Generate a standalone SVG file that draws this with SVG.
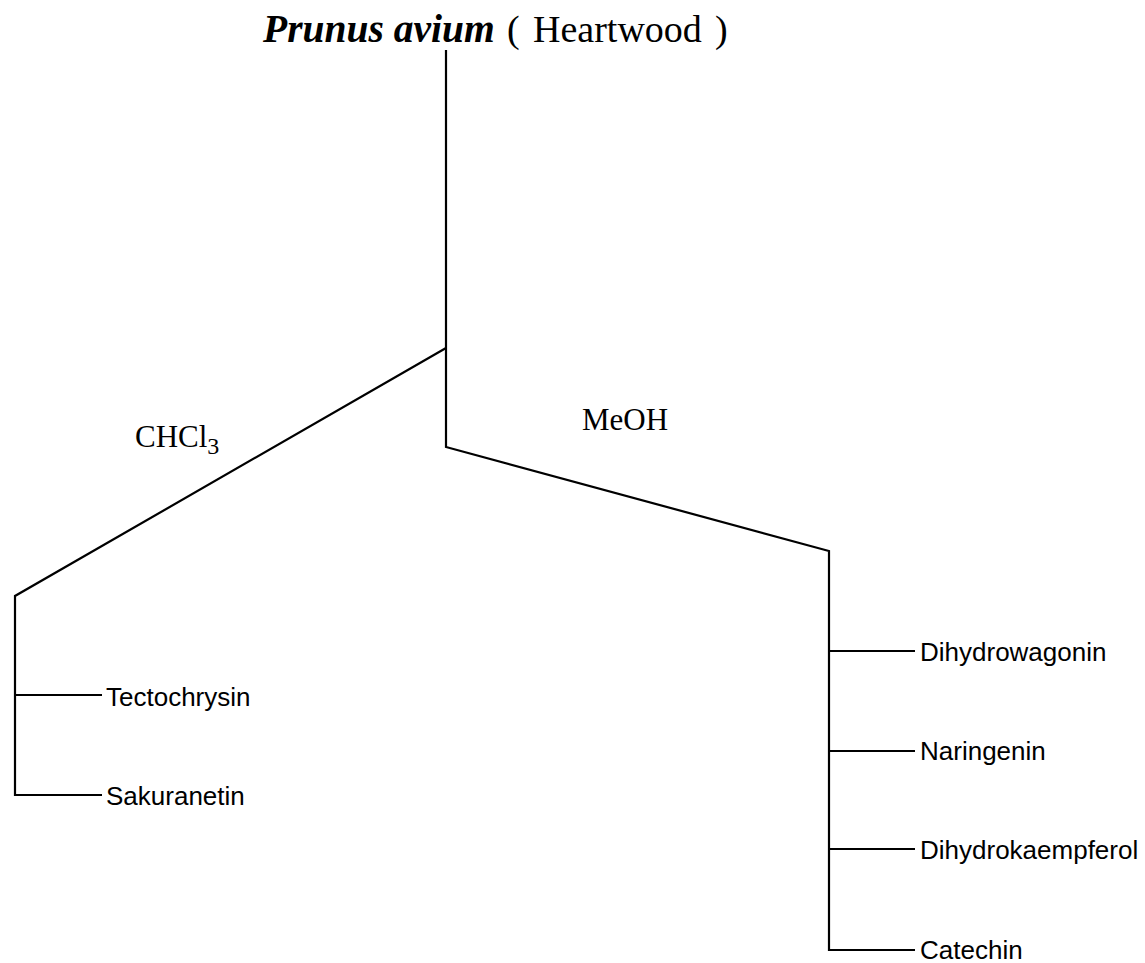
<svg xmlns="http://www.w3.org/2000/svg" width="1145" height="963" viewBox="0 0 1145 963">
<style>
.ln{fill:none;stroke:#000;stroke-width:2.2;stroke-linejoin:miter}
.serif{font-family:"Liberation Serif","Times New Roman",serif;fill:#000}
.sans{font-family:"Liberation Sans",Arial,sans-serif;font-size:26px;fill:#000}
</style>
<rect width="1145" height="963" fill="#fff"/>
<g id="connectors">
<polyline class="ln" points="446,50 446,447 829,551 829,950 915,950"/>
<polyline class="ln" points="446,348 15,596 15,795 102,795"/>
<line class="ln" x1="15" y1="695" x2="102" y2="695"/>
<line class="ln" x1="829" y1="651" x2="915" y2="651"/>
<line class="ln" x1="829" y1="751" x2="915" y2="751"/>
<line class="ln" x1="829" y1="849" x2="915" y2="849"/>
</g>
<g id="root">
<text class="serif" x="263" y="42" font-size="38px"><tspan font-weight="bold" font-style="italic" font-size="39.5px">Prunus avium</tspan><tspan x="507">(</tspan><tspan x="533">Heartwood</tspan><tspan x="715">)</tspan></text>
</g>
<g id="chcl3">
<text class="serif" x="135" y="447" font-size="31px">CHCl<tspan font-size="24px" dy="7">3</tspan></text>
</g>
<g id="meoh">
<text class="serif" x="582" y="430" font-size="31px">MeOH</text>
</g>
<g id="tectochrysin"><text class="sans" x="106" y="706">Tectochrysin</text></g>
<g id="sakuranetin"><text class="sans" x="106" y="805">Sakuranetin</text></g>
<g id="dihydrowagonin"><text class="sans" x="920" y="661">Dihydrowagonin</text></g>
<g id="naringenin"><text class="sans" x="920" y="760">Naringenin</text></g>
<g id="dihydrokaempferol"><text class="sans" x="920" y="859">Dihydrokaempferol</text></g>
<g id="catechin"><text class="sans" x="920" y="959">Catechin</text></g>
</svg>
